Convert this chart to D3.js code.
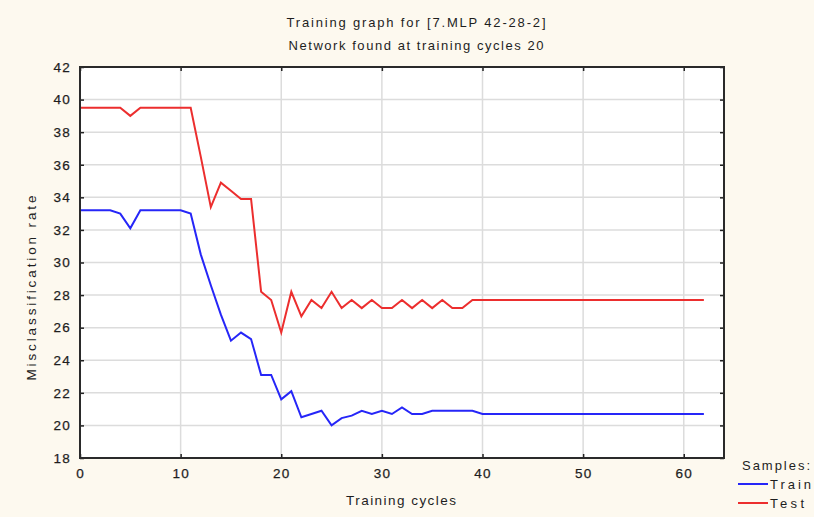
<!DOCTYPE html>
<html>
<head>
<meta charset="utf-8">
<script src="https://cdn.jsdelivr.net/npm/d3@7"></script>
<style>
  html, body { margin: 0; padding: 0; background: #fdf9ef; }
  svg { display: block; }
  text { font-family: Arial, "Liberation Sans", sans-serif; fill: #1e1e1e; }
</style>
</head>
<body>
<script>
const cycles = [0,1,2,3,4,5,6,7,8,9,10,11,12,13,14,15,16,17,18,19,20,21,22,23,24,25,26,27,28,29,30,31,32,33,34,35,36,37,38,39,40,41,42,43,44,45,46,47,48,49,50,51,52,53,54,55,56,57,58,59,60,61,62];
const trainValues = [33.2,33.2,33.2,33.2,33.0,32.1,33.2,33.2,33.2,33.2,33.2,33.0,30.5,28.6,26.8,25.2,25.7,25.3,23.1,23.1,21.6,22.1,20.5,20.7,20.9,20.0,20.45,20.6,20.9,20.7,20.9,20.7,21.1,20.7,20.7,20.9,20.9,20.9,20.9,20.9,20.7,20.7,20.7,20.7,20.7,20.7,20.7,20.7,20.7,20.7,20.7,20.7,20.7,20.7,20.7,20.7,20.7,20.7,20.7,20.7,20.7,20.7,20.7];
const testValues = [39.5,39.5,39.5,39.5,39.5,39.0,39.5,39.5,39.5,39.5,39.5,39.5,36.5,33.4,34.9,34.4,33.9,33.9,28.2,27.7,25.7,28.2,26.7,27.7,27.2,28.2,27.2,27.7,27.2,27.7,27.2,27.2,27.7,27.2,27.7,27.2,27.7,27.2,27.2,27.7,27.7,27.7,27.7,27.7,27.7,27.7,27.7,27.7,27.7,27.7,27.7,27.7,27.7,27.7,27.7,27.7,27.7,27.7,27.7,27.7,27.7,27.7,27.7];
const xTicks = [0,10,20,30,40,50,60];
const yTicks = [18,20,22,24,26,28,30,32,34,36,38,40,42];
const seriesNames = ["Train","Test"];
const seriesColors = ["#2626f8","#ec2e2e"];
const titleLines = ["Training graph for [7.MLP 42-28-2]","Network found at training cycles 20"];

const W = 814, H = 517;
const L = 80, R = 724, T = 67, B = 458;

const svg = d3.select("body").append("svg").attr("width", W).attr("height", H);
svg.append("rect").attr("width", W).attr("height", H).attr("fill", "#fdf9ef");

const x = d3.scaleLinear().domain([0, 64]).range([L, R]);
const y = d3.scaleLinear().domain([18, 42]).range([B, T]);

svg.append("rect").attr("x", L).attr("y", T).attr("width", R - L).attr("height", B - T).attr("fill", "#ffffff");

// grid
const grid = svg.append("g");
grid.selectAll("line.gx").data(xTicks.filter(d => d > 0)).enter().append("line")
  .attr("x1", d => x(d)).attr("x2", d => x(d)).attr("y1", T).attr("y2", B)
  .attr("stroke", "#dcdcdc").attr("stroke-width", 1.5);
grid.selectAll("line.gy").data(yTicks.filter(d => d > 18 && d < 42)).enter().append("line")
  .attr("y1", d => y(d)).attr("y2", d => y(d)).attr("x1", L).attr("x2", R)
  .attr("stroke", "#dcdcdc").attr("stroke-width", 1.5);

// series
const series = [trainValues, testValues];
const line = d3.line().x((d, i) => x(cycles[i])).y(d => y(d));
series.forEach((vals, k) => {
  svg.append("path").datum(vals).attr("d", line)
    .attr("fill", "none").attr("stroke", seriesColors[k]).attr("stroke-width", 2)
    .attr("stroke-linejoin", "miter");
});

// axes (ticks inward)
const fmt = d3.format("d");
const axB = d3.axisBottom(x).tickValues(xTicks).tickSize(-4).tickPadding(10).tickFormat(fmt);
const axL = d3.axisLeft(y).tickValues(yTicks).tickSize(-4).tickPadding(9).tickFormat(fmt);
const axT = d3.axisTop(x).tickValues(xTicks).tickSize(-4).tickFormat("");
const axR = d3.axisRight(y).tickValues(yTicks).tickSize(-4).tickFormat("");

function styleAxis(g) {
  g.select(".domain").remove();
  g.selectAll(".tick line").attr("stroke", "#222").attr("stroke-width", 1.5);
  g.selectAll("text").attr("font-size", 13.5).attr("fill", "#1e1e1e").attr("letter-spacing", "1.2px")
    .attr("stroke", "#1e1e1e").attr("stroke-width", 0.25);
}
svg.append("g").attr("transform", `translate(0,${B})`).call(axB).call(styleAxis);
svg.append("g").attr("transform", `translate(${L},0)`).call(axL).call(styleAxis);
svg.append("g").attr("transform", `translate(0,${T})`).call(axT).call(styleAxis);
svg.append("g").attr("transform", `translate(${R},0)`).call(axR).call(styleAxis);

// frame
svg.append("rect").attr("x", L).attr("y", T).attr("width", R - L).attr("height", B - T)
  .attr("fill", "none").attr("stroke", "#2a2a2a").attr("stroke-width", 2);

// titles
const tl = [[27, 259], [50, 255]];
titleLines.forEach((t, i) => {
  svg.append("text").attr("x", 416).attr("y", tl[i][0]).attr("text-anchor", "middle")
    .attr("font-size", 13).attr("textLength", tl[i][1]).attr("lengthAdjust", "spacing").text(t);
});

svg.append("text").attr("x", 401).attr("y", 505).attr("text-anchor", "middle")
  .attr("font-size", 13.5).attr("textLength", 110).attr("lengthAdjust", "spacing").text("Training cycles");

svg.append("text").attr("transform", `translate(36,288) rotate(-90)`).attr("text-anchor", "middle")
  .attr("font-size", 13.5).attr("textLength", 185).attr("lengthAdjust", "spacing").text("Misclassification rate");

// legend
svg.append("text").attr("x", 742).attr("y", 470).attr("font-size", 13)
  .attr("textLength", 68).attr("lengthAdjust", "spacing").text("Samples:");
const legY = [484, 503];
const legLen = [41, 34];
seriesNames.forEach((n, i) => {
  svg.append("line").attr("x1", 738).attr("x2", 768).attr("y1", legY[i]).attr("y2", legY[i])
    .attr("stroke", seriesColors[i]).attr("stroke-width", 2);
  svg.append("text").attr("x", 770).attr("y", legY[i] + 5).attr("font-size", 13)
    .attr("textLength", legLen[i]).attr("lengthAdjust", "spacing").text(n);
});
</script>
</body>
</html>
